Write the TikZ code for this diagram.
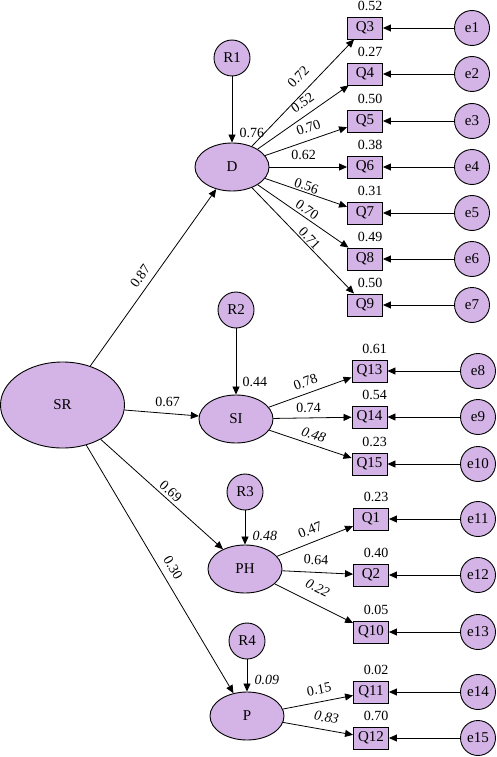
\documentclass[tikz,border=0pt]{standalone}
\usepackage{fontspec}
\setmainfont{Liberation Serif}
\usetikzlibrary{shapes.geometric,arrows.meta}
\definecolor{lav}{RGB}{212,180,230}
\begin{document}
\begin{tikzpicture}[x=1pt,y=-1pt,
  font=\fontsize{15}{17}\selectfont,
  lat/.style={ellipse,draw,fill=lav,line width=0.9pt,minimum width=74pt,minimum height=48pt,inner sep=0pt},
  bigl/.style={ellipse,draw,fill=lav,line width=0.9pt,minimum width=124pt,minimum height=86pt,inner sep=0pt},
  obs/.style={rectangle,draw,fill=lav,line width=0.9pt,minimum width=35pt,minimum height=22pt,inner sep=0pt},
  err/.style={circle,draw,fill=lav,line width=0.9pt,minimum size=35pt,inner sep=0pt},
  res/.style={circle,draw,fill=lav,line width=0.9pt,minimum size=36pt,inner sep=0pt},
  arr/.style={-{Triangle[length=8pt,width=7pt]},line width=0.8pt},
  lab/.style={inner sep=1.2pt,font=\fontsize{14}{16}\selectfont},
  ilab/.style={lab,font=\fontsize{14}{16}\selectfont\itshape},
  rsq/.style={lab,above=4.5pt,xshift=5pt}
]
\useasboundingbox (0,0) rectangle (497,757);

% latent variables
\node[bigl] (SR) at (62.5,405) {SR};
\node[lat] (D) at (232,167) {D};
\node[lat] (SI) at (236,419) {SI};
\node[lat] (PH) at (245,569) {PH};
\node[lat] (P) at (247,716) {P};

% residuals
\node[res] (R1) at (232,58) {R1};
\node[res] (R2) at (236,310) {R2};
\node[res] (R3) at (245,492) {R3};
\node[res] (R4) at (247,641) {R4};

% observed
\node[obs] (Q3) at (365,28) {Q3};
\node[obs] (Q4) at (365,74) {Q4};
\node[obs] (Q5) at (365,121) {Q5};
\node[obs] (Q6) at (365,167) {Q6};
\node[obs] (Q7) at (365,213) {Q7};
\node[obs] (Q8) at (365,259) {Q8};
\node[obs] (Q9) at (365,305) {Q9};
\node[obs] (Q13) at (369.5,371) {Q13};
\node[obs] (Q14) at (369.5,417) {Q14};
\node[obs] (Q15) at (369.5,464) {Q15};
\node[obs] (Q1) at (371,519) {Q1};
\node[obs] (Q2) at (371,575) {Q2};
\node[obs] (Q10) at (371,632) {Q10};
\node[obs] (Q11) at (371,692) {Q11};
\node[obs] (Q12) at (371,738) {Q12};

% errors
\node[err] (e1) at (472,28) {e1};
\node[err] (e2) at (472,74) {e2};
\node[err] (e3) at (472,121) {e3};
\node[err] (e4) at (472,167) {e4};
\node[err] (e5) at (472,213) {e5};
\node[err] (e6) at (472,259) {e6};
\node[err] (e7) at (472,305) {e7};
\node[err] (e8) at (478,371) {e8};
\node[err] (e9) at (478,417) {e9};
\node[err] (e10) at (478,464) {e10};
\node[err] (e11) at (478,519) {e11};
\node[err] (e12) at (478,575) {e12};
\node[err] (e13) at (478,632) {e13};
\node[err] (e14) at (478,692) {e14};
\node[err] (e15) at (478,738) {e15};

% squared multiple correlations
\node[rsq] (s3) at (Q3.north) {0.52};
\node[rsq] (s4) at (Q4.north) {0.27};
\node[rsq] (s5) at (Q5.north) {0.50};
\node[rsq] (s6) at (Q6.north) {0.38};
\node[rsq] (s7) at (Q7.north) {0.31};
\node[rsq] (s8) at (Q8.north) {0.49};
\node[rsq] (s9) at (Q9.north) {0.50};
\node[rsq] (s13) at (Q13.north) {0.61};
\node[rsq] (s14) at (Q14.north) {0.54};
\node[rsq] (s15) at (Q15.north) {0.23};
\node[rsq] (s1) at (Q1.north) {0.23};
\node[rsq] (s2) at (Q2.north) {0.40};
\node[rsq] (s10) at (Q10.north) {0.05};
\node[rsq] (s11) at (Q11.north) {0.02};
\node[rsq] (s12) at (Q12.north) {0.70};

% structural paths
\draw[arr] (SR) -- node[lab,sloped,pos=0.47,above=5pt] (l87) {0.87} (D);
\draw[arr] (SR) -- node[lab,pos=0.58,above=5pt] (l67) {0.67} (SI);
\draw[arr] (SR) -- node[lab,sloped,pos=0.53,above=1.6pt] (l69) {0.69} (PH);
\draw[arr] (SR) -- node[lab,sloped,pos=0.52,above=5.5pt] (l30) {0.30} (P);

% residual paths
\draw[arr] (R1) -- node[lab,pos=0.85,right=6pt] (l76) {0.76} (D);
\draw[arr] (R2) -- node[lab,pos=0.81,right=5pt] (l44) {0.44} (SI);
\draw[arr] (R3) -- node[ilab,pos=0.76,right=6pt] (l48r) {0.48} (PH);
\draw[arr] (R4) -- node[ilab,pos=0.64,right=6pt] (l09) {0.09} (P);

% loadings D
\draw[arr] (D) -- node[lab,sloped,pos=0.556,above=8pt] (l72) {0.72} (Q3);
\draw[arr] (D) -- node[lab,sloped,pos=0.571,above=6pt] (l52) {0.52} (Q4);
\draw[arr] (D) -- node[lab,sloped,pos=0.579,above=6pt] (l70a) {0.70} (Q5);
\draw[arr] (D) -- node[lab,sloped,pos=0.44,above=6pt] (l62) {0.62} (Q6);
\draw[arr] (D) -- node[lab,sloped,pos=0.48,above=0pt] (l56) {0.56} (Q7);
\draw[arr] (D) -- node[lab,sloped,pos=0.50,above=1pt] (l70b) {0.70} (Q8);
\draw[arr] (D) -- node[lab,sloped,pos=0.52,above=0pt] (l71) {0.71} (Q9);

% loadings SI
\draw[arr] (SI) -- node[lab,sloped,pos=0.49,above=5pt] (l78) {0.78} (Q13);
\draw[arr] (SI) -- node[lab,sloped,pos=0.45,above=4pt] (l74) {0.74} (Q14);
\draw[arr] (SI) -- node[ilab,sloped,pos=0.50,above=3.5pt] (l48s) {0.48} (Q15);

% loadings PH
\draw[arr] (PH) -- node[lab,sloped,pos=0.495,above=6pt] (l47) {0.47} (Q1);
\draw[arr] (PH) -- node[lab,sloped,pos=0.47,above=6pt] (l64) {0.64} (Q2);
\draw[arr] (PH) -- node[ilab,sloped,pos=0.46,above=9pt] (l22) {0.22} (Q10);

% loadings P
\draw[arr] (P) -- node[lab,sloped,pos=0.55,above=6pt] (l15) {0.15} (Q11);
\draw[arr] (P) -- node[ilab,sloped,pos=0.59,above=6pt] (l83) {0.83} (Q12);

% error paths
\foreach \e/\q in {e1/Q3,e2/Q4,e3/Q5,e4/Q6,e5/Q7,e6/Q8,e7/Q9,e8/Q13,e9/Q14,e10/Q15,e11/Q1,e12/Q2,e13/Q10,e14/Q11,e15/Q12}
  \draw[arr] (\e) -- (\q);
\end{tikzpicture}
\end{document}
